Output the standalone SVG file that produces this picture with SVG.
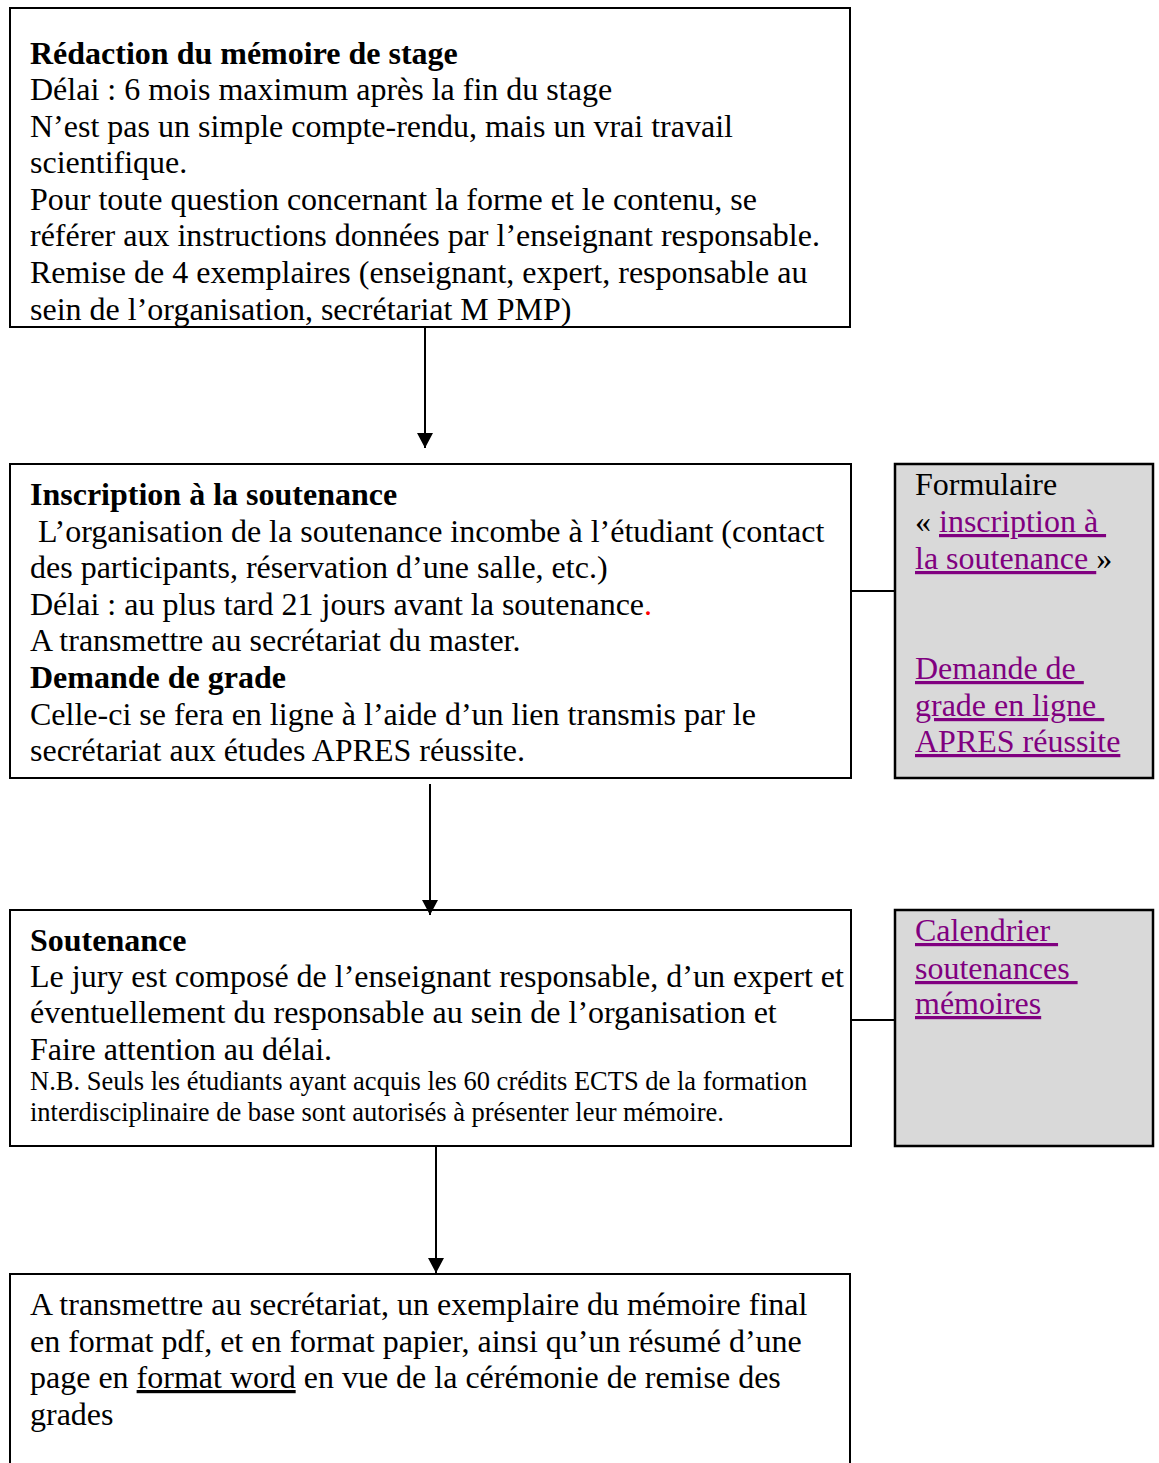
<svg xmlns="http://www.w3.org/2000/svg" width="1159" height="1463" viewBox="0 0 1159 1463">
<defs>
<style>
.box{fill:#fff;stroke:#000;stroke-width:2}
.side{fill:#d9d9d9;stroke:#000;stroke-width:2.5}
.t{font-family:"Liberation Serif","Times New Roman",serif;font-size:32px;fill:#000;white-space:pre}
.b{font-weight:bold}
.s{font-size:26.5px}
.lk{fill:#800080;text-decoration:underline}
.u{text-decoration:underline}
.ln{stroke:#000;stroke-width:2;fill:none}
</style>
<marker id="ah" markerWidth="16" markerHeight="16" refX="15" refY="8" orient="auto" markerUnits="userSpaceOnUse" viewBox="0 0 16 16">
<path d="M0,0 L15,8 L0,16 Z" fill="#000"/>
</marker>
</defs>
<rect width="1159" height="1463" fill="#fff"/>
<g id="n1">
<rect class="box" x="10" y="8" width="840" height="319"/>
<text class="t b" x="30" y="64">Rédaction du mémoire de stage</text>
<text class="t" x="30" y="100">Délai : 6 mois maximum après la fin du stage</text>
<text class="t" x="30" y="137">N’est pas un simple compte-rendu, mais un vrai travail</text>
<text class="t" x="30" y="173">scientifique.</text>
<text class="t" x="30" y="210">Pour toute question concernant la forme et le contenu, se</text>
<text class="t" x="30" y="246">référer aux instructions données par l’enseignant responsable.</text>
<text class="t" x="30" y="283">Remise de 4 exemplaires (enseignant, expert, responsable au</text>
<text class="t" x="30" y="320">sein de l’organisation, secrétariat M PMP)</text>
</g>
<g id="n2">
<rect class="box" x="10" y="464" width="841" height="314"/>
<text class="t b" x="30" y="505">Inscription à la soutenance</text>
<text class="t" x="30" y="542"> L’organisation de la soutenance incombe à l’étudiant (contact</text>
<text class="t" x="30" y="578">des participants, réservation d’une salle, etc.)</text>
<text class="t" x="30" y="615">Délai : au plus tard 21 jours avant la soutenance<tspan fill="#ff0000">.</tspan></text>
<text class="t" x="30" y="651">A transmettre au secrétariat du master.</text>
<text class="t b" x="30" y="688">Demande de grade</text>
<text class="t" x="30" y="725">Celle-ci se fera en ligne à l’aide d’un lien transmis par le</text>
<text class="t" x="30" y="761">secrétariat aux études APRES réussite.</text>
</g>
<g id="n2side">
<rect class="side" x="895" y="464" width="258" height="314"/>
<text class="t" x="915" y="495">Formulaire</text>
<text class="t" x="915" y="532">« <tspan class="lk">inscription à </tspan></text>
<text class="t" x="915" y="569"><tspan class="lk">la soutenance </tspan>»</text>
<text class="t lk" x="915" y="679">Demande de </text>
<text class="t lk" x="915" y="716">grade en ligne </text>
<text class="t lk" x="915" y="752">APRES réussite</text>
</g>
<g id="n3">
<rect class="box" x="10" y="910" width="841" height="236"/>
<text class="t b" x="30" y="951">Soutenance</text>
<text class="t" x="30" y="987">Le jury est composé de l’enseignant responsable, d’un expert et</text>
<text class="t" x="30" y="1023">éventuellement du responsable au sein de l’organisation et</text>
<text class="t" x="30" y="1060">Faire attention au délai.</text>
<text class="t s" x="30" y="1090">N.B. Seuls les étudiants ayant acquis les 60 crédits ECTS de la formation</text>
<text class="t s" x="30" y="1121">interdisciplinaire de base sont autorisés à présenter leur mémoire.</text>
</g>
<g id="n3side">
<rect class="side" x="895" y="910" width="258" height="236"/>
<text class="t lk" x="915" y="941">Calendrier </text>
<text class="t lk" x="915" y="979">soutenances </text>
<text class="t lk" x="915" y="1014">mémoires</text>
</g>
<g id="n4">
<rect class="box" x="10" y="1274" width="840" height="200"/>
<text class="t" x="30" y="1315">A transmettre au secrétariat, un exemplaire du mémoire final</text>
<text class="t" x="30" y="1352">en format pdf, et en format papier, ainsi qu’un résumé d’une</text>
<text class="t" x="30" y="1388">page en <tspan class="u">format word</tspan> en vue de la cérémonie de remise des</text>
<text class="t" x="30" y="1425">grades</text>
</g>
<g id="connectors">
<line class="ln" x1="425" y1="327" x2="425" y2="448" marker-end="url(#ah)"/>
<line class="ln" x1="430" y1="784" x2="430" y2="915" marker-end="url(#ah)"/>
<line class="ln" x1="436" y1="1147" x2="436" y2="1273" marker-end="url(#ah)"/>
<line class="ln" x1="851" y1="591" x2="895" y2="591"/>
<line class="ln" x1="851" y1="1020" x2="895" y2="1020"/>
</g>
</svg>
